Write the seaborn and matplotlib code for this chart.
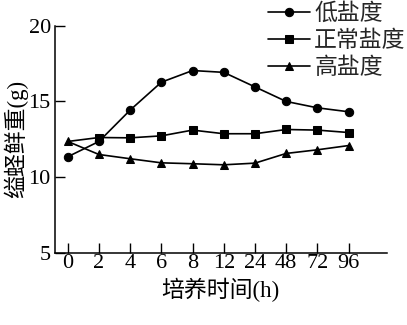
import matplotlib
matplotlib.use("Agg")
import matplotlib.pyplot as plt
import seaborn as sns
import pandas as pd

hours = ["0", "2", "4", "6", "8", "12", "24", "48", "72", "96"]
low_salt = [11.35, 12.36, 14.43, 16.27, 17.04, 16.92, 15.96, 15.0, 14.58, 14.32]
normal_salt = [12.36, 12.62, 12.60, 12.73, 13.11, 12.87, 12.87, 13.15, 13.11, 12.95]
high_salt = [12.36, 11.50, 11.22, 10.95, 10.89, 10.82, 10.93, 11.57, 11.81, 12.09]
series_names = ["低盐度", "正常盐度", "高盐度"]

sns.set_theme(style="ticks")
fam = ["Liberation Serif", "Noto Sans CJK SC"]
plt.rcParams["font.family"] = fam

fig = plt.figure(figsize=(4.07, 3.25), dpi=100)
ax = fig.add_axes([0.135, 0.2215, 0.815, 0.6995])

pos = list(range(len(hours)))
markers = ["o", "s", "^"]
msizes = [6, 6, 6]
for name, vals, mk, ms in zip(series_names, [low_salt, normal_salt, high_salt], markers, msizes):
    df = pd.DataFrame({"x": pos, "y": vals})
    kw = {}
    if name == "正常盐度":
        kw["markevery"] = list(range(1, len(hours)))
    sns.lineplot(data=df, x="x", y="y", ax=ax, color="black", linewidth=1.2,
                 marker=mk, markersize=ms, markeredgecolor="black",
                 markerfacecolor="black", label=name, **kw)

ax.set_xlim(-0.41, 10.22)
ax.set_ylim(5, 20)
ax.set_xticks(pos)
ax.set_xticklabels(hours)
ax.set_yticks([5, 10, 15, 20])
ax.tick_params(direction="in", length=7, width=1, labelsize=16, color="black",
               labelcolor="black")
ax.tick_params(axis="x", pad=1)
ax.tick_params(axis="y", pad=3)
for lbl in ax.get_xticklabels() + ax.get_yticklabels():
    lbl.set_family(fam)
sns.despine(ax=ax)
for s in ["left", "bottom"]:
    ax.spines[s].set_linewidth(1.1)
    ax.spines[s].set_color("black")

ax.set_xlabel("培养时间(h)", fontsize=16.5, family=fam, labelpad=3, color="black")
ax.set_ylabel("缢蛏鲜重(g)", fontsize=16.5, family=fam, labelpad=0, color="black")

leg = ax.legend(loc="upper right", bbox_to_anchor=(1.085, 1.14), frameon=False,
                prop={"family": fam, "size": 16.5}, handlelength=1.8,
                handletextpad=0.2, labelspacing=0.25, borderaxespad=0)

fig.savefig("out.png", dpi=100)
